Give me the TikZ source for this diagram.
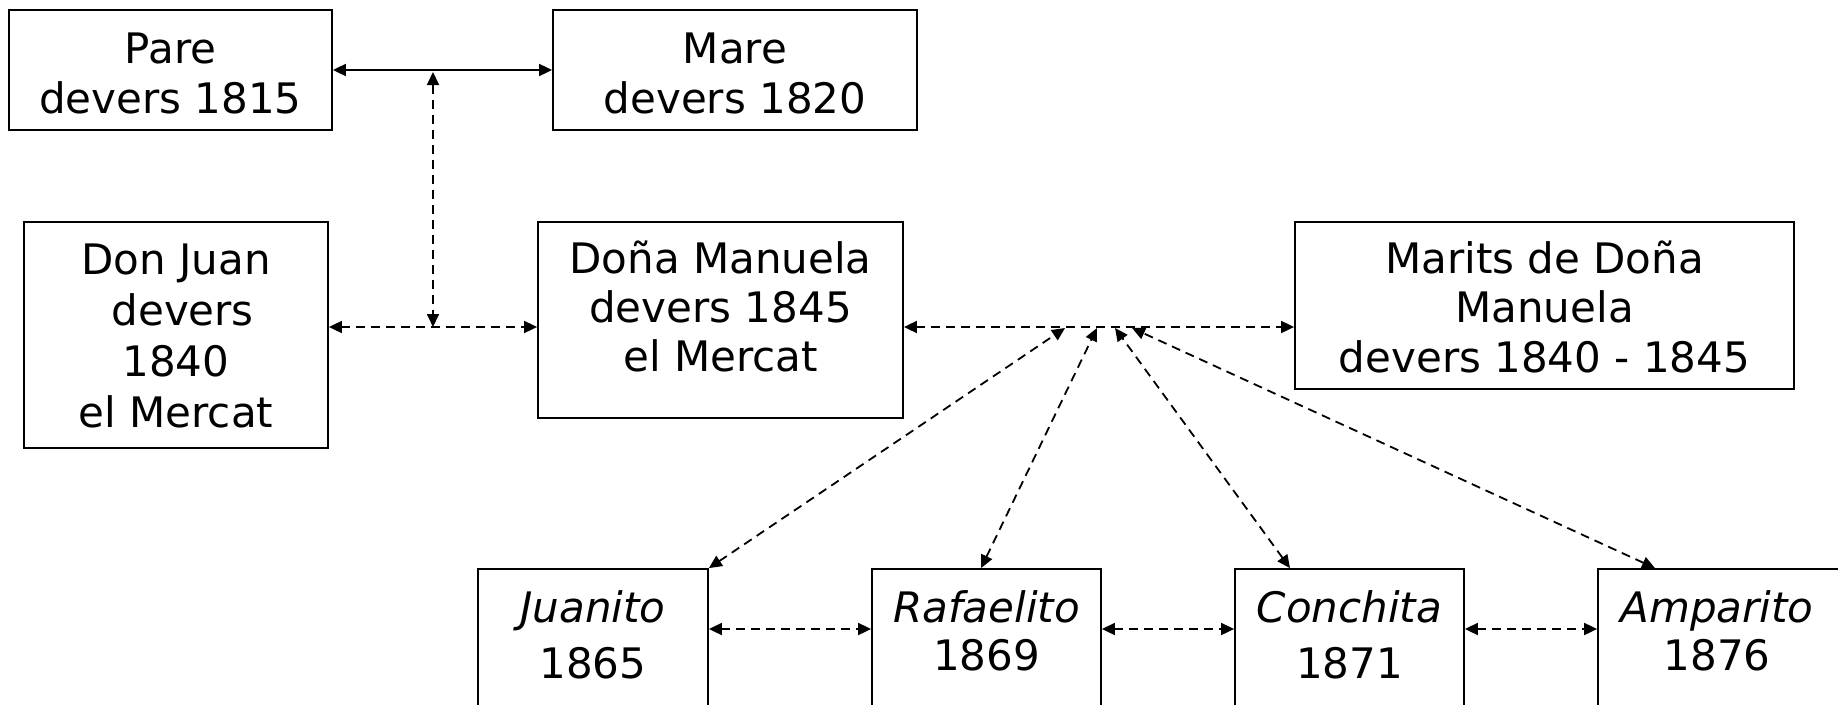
\documentclass[tikz,border=0pt]{standalone}
\usepackage{fontspec}
\setmainfont{DejaVu Sans}
\usetikzlibrary{arrows.meta}
\newcommand{\mlines}[2]{\parbox[t]{700pt}{\centering\fontsize{42}{#1}\selectfont #2}}
\begin{document}
\begin{tikzpicture}[x=1pt,y=-1pt,
  box/.style={draw,line width=1.8pt,inner sep=0pt},
  txt/.style={inner sep=0pt,anchor=base},
  link/.style={line width=1.8pt,{Triangle[length=13pt,width=12pt]}-{Triangle[length=13pt,width=12pt]}},
  dlink/.style={link,dash pattern=on 9pt off 6pt}]
\useasboundingbox (0,0) rectangle (1838,704);
\clip (0,0) rectangle (1838,704);
% boxes
\node[box,minimum width=323pt,minimum height=120pt] (pare) at (170.5,70) {};
\node[box,minimum width=364pt,minimum height=120pt] (mare) at (735,70) {};
\node[box,minimum width=304pt,minimum height=226pt] (juan) at (176,335) {};
\node[box,minimum width=365pt,minimum height=196pt] (dona) at (720.5,320) {};
\node[box,minimum width=499pt,minimum height=167pt] (marits) at (1544.5,305.5) {};
\node[box,minimum width=230pt,minimum height=161pt] (juanito) at (593,649.5) {};
\node[box,minimum width=229pt,minimum height=161pt] (rafa) at (986.5,649.5) {};
\node[box,minimum width=229pt,minimum height=161pt] (conchita) at (1349.5,649.5) {};
\node[box,minimum width=262pt,minimum height=161pt] (amparito) at (1729,649.5) {};
% texts
\node[txt] (tpare) at (170.5,63) {\mlines{50}{Pare\\devers 1815}};
\node[txt] (tmare) at (735,63) {\mlines{50}{Mare\\devers 1820}};
\node[txt] (tjuan) at (176,274) {\mlines{51}{Don Juan\\\mbox{\ devers}\\1840\\el Mercat}};
\node[txt] (tdona) at (720.5,273) {\mlines{49}{Doña Manuela\\devers 1845\\el Mercat}};
\node[txt] (tmarits) at (1544.5,273) {\mlines{49.5}{Marits de Doña\\Manuela\\devers 1840 - 1845}};
\node[txt] (tjuanito) at (593,622) {\mlines{56}{{\itshape Juanito}\\1865}};
\node[txt] (trafa) at (986.5,622) {\mlines{48}{{\itshape Rafaelito}\\1869}};
\node[txt] (tconchita) at (1349.5,622) {\mlines{56}{{\itshape Conchita}\\1871}};
\node[txt] (tamparito) at (1717,622) {\mlines{48}{{\itshape Amparito}\\1876}};
% junction coordinates
\coordinate (pm) at (433,72);
\coordinate (jd) at (433,327);
\coordinate (j1) at (1065,328);
\coordinate (j2) at (1097,328);
\coordinate (j3) at (1115,328);
\coordinate (j4) at (1132,328);
\coordinate (bl) at (0,629);
% connectors
\draw[link] (pare.east) -- (mare.west);
\draw[dlink] (pm) -- (jd);
\draw[dlink] (juan.east |- jd) -- (dona.west |- jd);
\draw[dlink] (dona.east |- jd) -- (marits.west |- jd);
\draw[dlink] (juanito.north east) -- (j1);
\draw[dlink] ([xshift=-5.5pt]rafa.north) -- (j2);
\draw[dlink] ([xshift=-59.5pt]conchita.north) -- (j3);
\draw[dlink] ([xshift=-74pt]amparito.north) -- (j4);
\draw[dlink] (juanito.east |- bl) -- (rafa.west |- bl);
\draw[dlink] (rafa.east |- bl) -- (conchita.west |- bl);
\draw[dlink] (conchita.east |- bl) -- (amparito.west |- bl);
\end{tikzpicture}
\end{document}
